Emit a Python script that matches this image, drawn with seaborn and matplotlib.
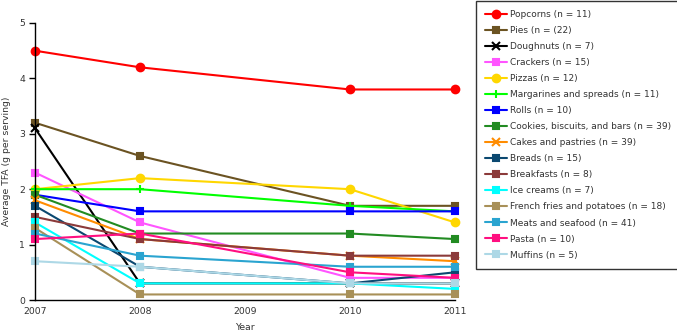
import matplotlib
matplotlib.use("Agg")
import matplotlib.pyplot as plt
import seaborn as sns
import pandas as pd

years = [2007, 2008, 2010, 2011]
categories = [
    "Popcorns (n = 11)", "Pies (n = (22)", "Doughnuts (n = 7)", "Crackers (n = 15)",
    "Pizzas (n = 12)", "Margarines and spreads (n = 11)", "Rolls (n = 10)",
    "Cookies, biscuits, and bars (n = 39)", "Cakes and pastries (n = 39)",
    "Breads (n = 15)", "Breakfasts (n = 8)", "Ice creams (n = 7)",
    "French fries and potatoes (n = 18)", "Meats and seafood (n = 41)",
    "Pasta (n = 10)", "Muffins (n = 5)",
]
popcorns = [4.5, 4.2, 3.8, 3.8]
pies = [3.2, 2.6, 1.7, 1.7]
doughnuts = [3.1, 0.3, 0.3, 0.3]
crackers = [2.3, 1.4, 0.4, 0.4]
pizzas = [2.0, 2.2, 2.0, 1.4]
margarines = [2.0, 2.0, 1.7, 1.6]
rolls = [1.9, 1.6, 1.6, 1.6]
cookies = [1.9, 1.2, 1.2, 1.1]
cakes = [1.8, 1.1, 0.8, 0.7]
breads = [1.7, 0.6, 0.3, 0.5]
breakfasts = [1.5, 1.1, 0.8, 0.8]
ice_creams = [1.4, 0.3, 0.3, 0.2]
french_fries = [1.3, 0.1, 0.1, 0.1]
meats = [1.2, 0.8, 0.6, 0.6]
pasta = [1.1, 1.2, 0.5, 0.4]
muffins = [0.7, 0.6, 0.3, 0.3]
series = [popcorns, pies, doughnuts, crackers, pizzas, margarines, rolls, cookies,
          cakes, breads, breakfasts, ice_creams, french_fries, meats, pasta, muffins]

colors = ["#ff0000", "#6b5322", "#000000", "#ff55ff", "#ffd700", "#00ff00", "#0000ff",
          "#228b22", "#ff8c00", "#0b4870", "#8b3a3a", "#00ffff", "#a89058", "#2aa4d0",
          "#ff0f80", "#add8e6"]
markers = ["o", "s", "x", "s", "o", "+", "s", "s", "x", "s", "s", "s", "s", "s", "s", "s"]

sns.set_style("white")
plt.rcParams["font.family"] = ["DejaVu Sans"]

fig = plt.figure(figsize=(6.77, 3.35), dpi=100)
ax = fig.add_axes([35/677, 35/335, 420/677, 277/335])

for cat, vals, col, mk in zip(categories, series, colors, markers):
    d = pd.DataFrame({"Year": years, "TFA": vals})
    ms = 5.5 if mk == "o" else (4.5 if mk == "s" else 6)
    sns.lineplot(data=d, x="Year", y="TFA", color=col, marker=mk, markersize=ms,
                 markeredgewidth=1.5, markeredgecolor=col, linewidth=1.5,
                 label=cat, ax=ax, clip_on=False)

for line in ax.lines:
    line.set_clip_on(False)

ax.set_xlim(2007, 2011)
ax.set_ylim(0, 5)
ax.set_xticks([2007, 2008, 2009, 2010, 2011])
ax.set_yticks([0, 1, 2, 3, 4, 5])
ax.tick_params(axis="both", labelsize=6.7, colors="#333333")
ax.tick_params(axis="x", length=0, pad=5)
ax.tick_params(axis="y", left=True, length=4, width=1, color="black", pad=3)
ax.set_xlabel("Year", fontsize=6.7, color="#333333", labelpad=5)
ax.set_ylabel("Average TFA (g per serving)", fontsize=6.7, color="#333333", labelpad=6)
for s in ["top", "right"]:
    ax.spines[s].set_visible(False)
for s in ["left", "bottom"]:
    ax.spines[s].set_color("black")
    ax.spines[s].set_linewidth(1)

handles, labels = ax.get_legend_handles_labels()
if ax.legend_ is not None:
    ax.legend_.remove()
leg = fig.legend(handles, labels, loc="upper left", bbox_to_anchor=(476/677, 1 - 0.5/335),
                 frameon=True, fontsize=6.5, handlelength=2.33, handletextpad=0.4,
                 labelspacing=0.78, borderpad=1.05, borderaxespad=0,
                 fancybox=False, edgecolor="black")
leg.get_frame().set_linewidth(1)
for t in leg.get_texts():
    t.set_color("#333333")

fig.savefig("out.png", dpi=100)
